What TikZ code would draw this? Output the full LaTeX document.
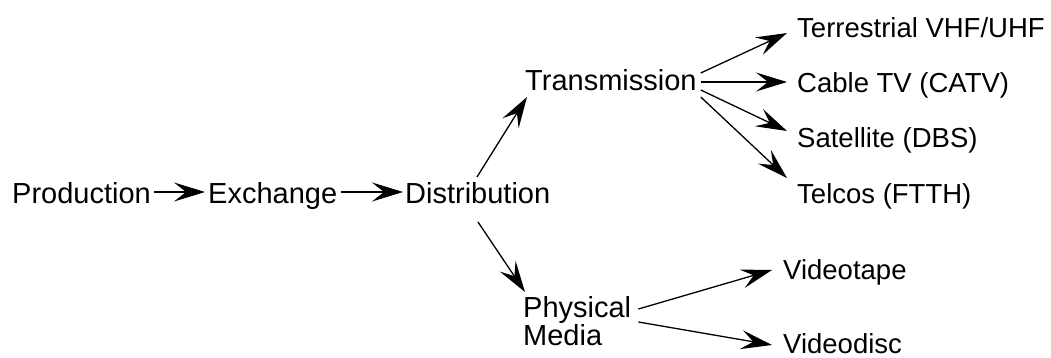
\documentclass[tikz,border=0pt]{standalone}
\usepackage{fontspec}
\setmainfont{Liberation Sans}
\usetikzlibrary{arrows.meta}
\tikzset{
  stage/.style={inner sep=0pt, anchor=base west, font=\fontsize{29}{32}\selectfont},
  leaf/.style={inner sep=0pt, anchor=base west, font=\fontsize{27.5}{32}\selectfont},
  flow/.style={line width=1.3pt, -{Stealth[length=31pt, width=19pt, inset=12pt]}},
}
\begin{document}
\begin{tikzpicture}[x=1pt, y=-1pt]
  \useasboundingbox (0,0) rectangle (1051,358);

  % main chain
  \node[stage] (prod)  at (12,203)  {Production};
  \node[stage] (exch)  at (208,203) {Exchange};
  \node[stage] (dist)  at (405,203) {Distribution};
  \node[stage] (trans) at (525,91)  {Transmission};
  \node[stage] (phys)  at (523,317) {Physical};
  \node[stage] (media) at (523,345) {Media};

  % delivery channels
  \node[leaf] (terr)  at (797,38)  {Terrestrial VHF/UHF};
  \node[leaf] (cable) at (797,93)  {Cable TV (CATV)};
  \node[leaf] (sat)   at (797,148) {Satellite (DBS)};
  \node[leaf] (tel)   at (797,203) {Telcos (FTTH)};
  \node[leaf] (tape)  at (783,279) {Videotape};
  \node[leaf] (disc)  at (783,353) {Videodisc};

  % connectors
  \draw[flow] ([shift={(3,-11)}]prod.base east) -- ([shift={(-3,-11)}]exch.base west);
  \draw[flow] ([shift={(4,-11)}]exch.base east) -- ([shift={(-2,-11)}]dist.base west);
  \draw[flow] ([shift={(72,-26)}]dist.base west) -- ([shift={(2,6)}]trans.base west);
  \draw[flow] ([shift={(73,19)}]dist.base west) -- ([shift={(2,-25)}]phys.base west);

  \draw[flow] ([shift={(4,-18)}]trans.base east) -- ([shift={(-10,-5)}]terr.base west);
  \draw[flow] ([shift={(4,-9)}]trans.base east)  -- ([shift={(-10,-11)}]cable.base west);
  \draw[flow] ([shift={(4,-1)}]trans.base east)  -- ([shift={(-10,-17)}]sat.base west);
  \draw[flow] ([shift={(4,6)}]trans.base east)   -- ([shift={(-10,-25)}]tel.base west);

  \draw[flow] ([shift={(7,-8)}]phys.base east) -- ([shift={(-11,-9)}]tape.base west);
  \draw[flow] ([shift={(7,5)}]phys.base east)  -- ([shift={(-11,-8)}]disc.base west);
\end{tikzpicture}
\end{document}
